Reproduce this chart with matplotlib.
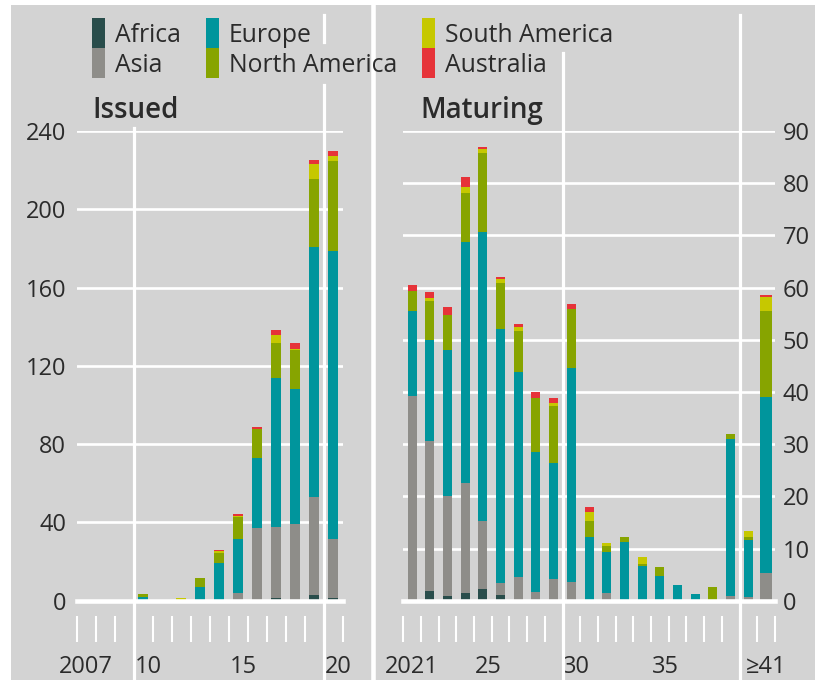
import numpy as np
import matplotlib.pyplot as plt
from matplotlib.lines import Line2D
from matplotlib.patches import Rectangle
from matplotlib.transforms import blended_transform_factory, ScaledTranslation

plt.rcParams['font.family'] = ['Open Sans', 'DejaVu Sans']

# issued, 2007-2020
years_issued = list(range(2007, 2021))
iss_africa = [0, 0, 0, 0, 0, 0, 0, 0, 0, 0, 1.5, 0, 2.8, 1.5]
iss_asia = [0, 0, 0, 0, 0, 0, 0, 0, 3.8, 37.0, 36.0, 39.2, 50.0, 29.9]
iss_europe = [0, 0, 0, 1.7, 0, 0, 7.2, 19.4, 27.7, 35.7, 76.4, 68.9, 127.8, 147.4]
iss_namer = [0, 0, 0, 1.6, 0, 0, 4.3, 5.1, 11.1, 15.0, 17.9, 19.9, 34.8, 45.8]
iss_samer = [0, 0, 0, 0, 0, 1.5, 0, 0.7, 0.8, 0, 3.9, 0.7, 7.6, 2.5]
iss_austr = [0, 0, 0, 0, 0, 0, 0, 0.5, 0.8, 0.9, 2.6, 2.8, 2.4, 2.6]

# maturing, 2021-2040 and >=2041
years_maturing = [str(y) for y in range(2021, 2041)] + ['≥41']
mat_africa = [0, 1.9, 0.9, 1.5, 2.2, 1.0, 0, 0, 0, 0, 0, 0, 0, 0, 0, 0, 0, 0, 0, 0, 0]
mat_asia = [39.3, 28.7, 19.1, 21.1, 13.1, 2.3, 4.6, 1.7, 4.2, 3.6, 0, 1.4, 0, 0, 0, 0, 0, 0, 0.9, 0.8, 5.4]
mat_europe = [16.2, 19.4, 28.1, 46.1, 55.4, 48.8, 39.3, 26.7, 22.2, 40.9, 12.2, 8.0, 11.2, 6.7, 4.8, 3.1, 1.3, 0, 30.0, 10.9, 33.6]
mat_namer = [3.9, 7.4, 6.6, 9.5, 15.0, 8.8, 7.8, 10.4, 11.0, 11.3, 3.1, 1.0, 1.1, 0.3, 1.6, 0, 0, 2.6, 1.0, 0.5, 16.5]
mat_samer = [0, 0.6, 0, 1.0, 0.8, 0.8, 0.8, 0, 0.4, 0, 1.7, 0.6, 0, 1.3, 0, 0, 0, 0, 0, 1.2, 2.7]
mat_austr = [1.1, 1.1, 1.6, 2.0, 0.4, 0.3, 0.6, 1.2, 1.1, 1.0, 0.9, 0, 0, 0, 0, 0, 0, 0, 0, 0, 0.3]

regions = ['Africa', 'Asia', 'Europe', 'North America', 'South America', 'Australia']
colors = ['#294d4b', '#8e8d89', '#00959c', '#87a400', '#c6c800', '#e63339']

issued_ticks = {2007: '2007', 2010: '10', 2015: '15', 2020: '20'}
maturing_ticks = {0: '2021', 4: '25', 9: '30', 14: '35', 20: '≥41'}

BG = '#d3d3d3'
TXT = '#2b2b2b'
W, H = 815, 680


def fy(py):
    return 1 - py / H


fig = plt.figure(figsize=(W / 100, H / 100), dpi=100)
fig.patch.set_facecolor(BG)
fig.add_artist(Rectangle((0, fy(5)), 1, 1, transform=fig.transFigure, color='white', lw=0))
fig.add_artist(Rectangle((0, 0), 11 / W, 1, transform=fig.transFigure, color='white', lw=0))
# separator between panels
fig.add_artist(Line2D([373 / W, 373 / W], [0, fy(5)], transform=fig.transFigure, color='white', lw=3.3))

bottom_f = fy(600.7)
height_f = fy(131) - bottom_f
ax1 = fig.add_axes([76.5 / W, bottom_f, 266 / W, height_f])
ax2 = fig.add_axes([403.2 / W, bottom_f, 371.7 / W, height_f])


def stack(ax, x, series, width):
    base = np.zeros(len(x))
    for vals, col in zip(series, colors):
        ax.bar(x, vals, width, bottom=base, color=col, linewidth=0, zorder=2)
        base += np.array(vals)


stack(ax1, years_issued, [iss_africa, iss_asia, iss_europe, iss_namer, iss_samer, iss_austr], 0.53)
xm = np.arange(len(years_maturing))
widths = [0.51] * (len(xm) - 1) + [0.72]
stack(ax2, xm, [mat_africa, mat_asia, mat_europe, mat_namer, mat_samer, mat_austr], widths)

ax1.set_xlim(2006.5, 2020.5)
ax1.set_ylim(0, 240)
ax1.set_yticks(range(0, 241, 40))
ax2.set_xlim(-0.5, len(xm) - 0.5)
ax2.set_ylim(0, 90)
ax2.set_yticks(range(0, 91, 10))
ax2.yaxis.tick_right()

for ax, bounds, ticks in [(ax1, np.arange(2006.5, 2021), issued_ticks),
                          (ax2, np.arange(-0.5, len(xm)), maturing_ticks)]:
    ax.set_facecolor('none')
    for s in ax.spines.values():
        s.set_visible(False)
    ax.set_xticks([])
    ax.grid(axis='y', color='white', lw=1.9)
    ax.set_axisbelow(True)
    ax.axhline(0, color='white', lw=3.3, zorder=4, clip_on=False)
    ax.tick_params(axis='y', length=0, labelsize=17, labelcolor=TXT)
    ax.vlines(bounds, -0.0326, -0.088, transform=ax.get_xaxis_transform(),
              color='white', lw=1.5, clip_on=False)
    for x, lab in ticks.items():
        dx = 5.5 if len(lab) == 2 else 0
        tr = ax.get_xaxis_transform() + ScaledTranslation(dx / 100, 0, fig.dpi_scale_trans)
        ax.text(x, -0.154, lab, transform=tr, ha='center', va='baseline',
                fontsize=17, color=TXT)

ax1.tick_params(axis='y', pad=7.5)
ax2.tick_params(axis='y', pad=5.8)

# long vertical gridlines, partly hidden behind header texts
vlines = [(ax1, 2009.5, [(128, 680)]),
          (ax1, 2019.5, [(15, 42), (85, 680)]),
          (ax2, 8.5, [(53, 680)]),
          (ax2, 18.5, [(15, 680)])]
for ax, x, segs in vlines:
    tr = blended_transform_factory(ax.transData, fig.transFigure)
    for y0, y1 in segs:
        fig.add_artist(Line2D([x, x], [fy(y0), fy(y1)], transform=tr, color='white', lw=2.3, zorder=1))

# legend
col_x = [92, 206, 422]
for i, (name, col) in enumerate(zip(regions, colors)):
    cx = col_x[i // 2]
    top = 18 + 30 * (i % 2)
    fig.add_artist(Rectangle((cx / W, fy(top + 30)), 13 / W, 30 / H, transform=fig.transFigure,
                             color=col, lw=0))
    fig.text((cx + 23) / W, fy(top + 15), name, ha='left', va='center_baseline',
             fontsize=17.8, color=TXT)

fig.text(92 / W, fy(118), 'Issued', ha='left', va='baseline', fontsize=20,
         fontweight='semibold', color=TXT)
fig.text(420 / W, fy(118), 'Maturing', ha='left', va='baseline', fontsize=20,
         fontweight='semibold', color=TXT)

fig.savefig('out.png', dpi=100, facecolor=fig.get_facecolor())
